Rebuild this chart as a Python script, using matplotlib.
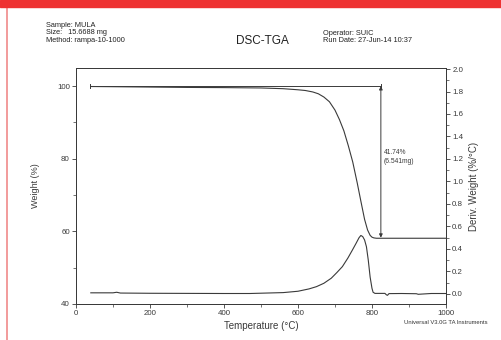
import matplotlib.pyplot as plt
from matplotlib.ticker import MultipleLocator

plt.rcParams['font.family'] = ['Liberation Sans', 'DejaVu Sans']

# TGA weight curve (%)
temp_w = [40, 100, 200, 300, 400, 500, 560, 600, 620, 640, 655, 670, 685, 700, 712, 724,
          736, 748, 760, 770, 780, 788, 795, 800, 805, 812, 820, 900, 1000]
weight = [99.9, 99.85, 99.75, 99.65, 99.6, 99.5, 99.3, 99.0, 98.8, 98.4, 97.9, 97.0, 95.7,
          93.4, 90.8, 87.7, 83.6, 79.1, 73.4, 68.3, 63.3, 60.4, 58.9, 58.4, 58.2, 58.1,
          58.1, 58.1, 58.1]

# derivative weight curve (%/°C)
temp_d = [40, 100, 110, 120, 200, 300, 400, 470, 560, 600, 630, 650, 670, 690, 705, 720,
          735, 747, 757, 765, 770, 775, 780, 785, 790, 795, 800, 803, 808, 835, 839, 842,
          846, 880, 920, 925, 960, 1000]
deriv = [0.01, 0.01, 0.015, 0.008, 0.006, 0.005, 0.004, 0.004, 0.012, 0.024, 0.045, 0.065,
         0.095, 0.14, 0.19, 0.243, 0.32, 0.39, 0.45, 0.50, 0.52, 0.51, 0.48, 0.42, 0.30,
         0.15, 0.05, 0.015, 0.005, 0.005, -0.008, -0.012, 0.003, 0.004, 0.002, -0.003,
         0.004, 0.004]

loss_pct = "41.74%"
loss_mg = "(6.541mg)"
step_start, step_end = 100.0, 58.26
step_temp = 824

ink = '#3a3a3a'

fig = plt.figure(figsize=(5.02, 3.40), dpi=100)
ax = fig.add_axes([0.1514, 0.106, 0.7370, 0.694])
ax2 = ax.twinx()

ax.plot(temp_w, weight, color=ink, lw=0.8)
ax2.plot(temp_d, deriv, color=ink, lw=0.8)

# step annotation
ax.plot([38, step_temp], [step_start, step_start], color=ink, lw=0.7)
ax.plot([38, 38], [step_start - 0.6, step_start + 0.6], color=ink, lw=0.7)
ax.plot([step_temp, step_temp], [step_start - 0.6, step_start + 0.6], color=ink, lw=0.7)
ax.annotate('', xy=(step_temp, step_end), xytext=(step_temp, step_start),
            arrowprops=dict(arrowstyle='<|-|>', color=ink, lw=0.7,
                            mutation_scale=5, shrinkA=0, shrinkB=0))
ax.text(step_temp + 7, 80.5, loss_pct + "\n" + loss_mg, fontsize=4.8, color=ink,
        va='center', ha='left', linespacing=1.3)

ax.set_xlim(0, 1000)
ax.set_ylim(40, 105)
ax2.set_ylim(-0.089, 2.009)

ax.xaxis.set_major_locator(MultipleLocator(200))
ax.xaxis.set_minor_locator(MultipleLocator(100))
ax.yaxis.set_major_locator(MultipleLocator(20))
ax.yaxis.set_minor_locator(MultipleLocator(10))
ax2.yaxis.set_major_locator(MultipleLocator(0.2))
ax2.yaxis.set_minor_locator(MultipleLocator(0.1))
ax2.yaxis.set_major_formatter(plt.FuncFormatter(lambda v, p: f"{v:.1f}"))

for a in (ax, ax2):
    a.tick_params(which='major', direction='out', length=3, width=0.6, labelsize=5.7,
                  colors=ink, pad=1.5)
    a.tick_params(which='minor', direction='out', length=2, width=0.5, colors=ink)
    for s in a.spines.values():
        s.set_linewidth(0.7)
        s.set_color(ink)

ax.set_xlabel("Temperature (°C)", fontsize=7, color=ink, labelpad=3)
ax.set_ylabel("Weight (%)", fontsize=6.5, color=ink, labelpad=12)
ax2.set_ylabel("Deriv. Weight (%/°C)", fontsize=7, color=ink, labelpad=4)

# header texts
fig.text(46 / 502, 1 - 33 / 340, "Sample: MULA\nSize:   15.6688 mg\nMethod: rampa-10-1000",
         fontsize=5.3, color='#222222', va='center', ha='left', linespacing=1.15)
fig.text(262 / 502, 1 - 41 / 340, "DSC-TGA", fontsize=8.5, color='#222222',
         va='center', ha='center')
fig.text(323 / 502, 1 - 37 / 340, "Operator: SUIC\nRun Date: 27-Jun-14 10:37",
         fontsize=5.3, color='#222222', va='center', ha='left', linespacing=1.15)
fig.text(446 / 502, 1 - 322 / 340, "Universal V3.0G TA Instruments", fontsize=4.2,
         color='#333333', va='center', ha='center')

# red scan border
fig.patches.append(plt.Rectangle((0, 1 - 7 / 340), 1, 7 / 340, transform=fig.transFigure,
                                 color='#ee3232', zorder=5))
fig.add_artist(plt.Line2D([7.5 / 502, 7.5 / 502], [0, 1], transform=fig.transFigure,
                          color='#f08a8a', lw=1.2))

fig.savefig("out.png", dpi=100)
